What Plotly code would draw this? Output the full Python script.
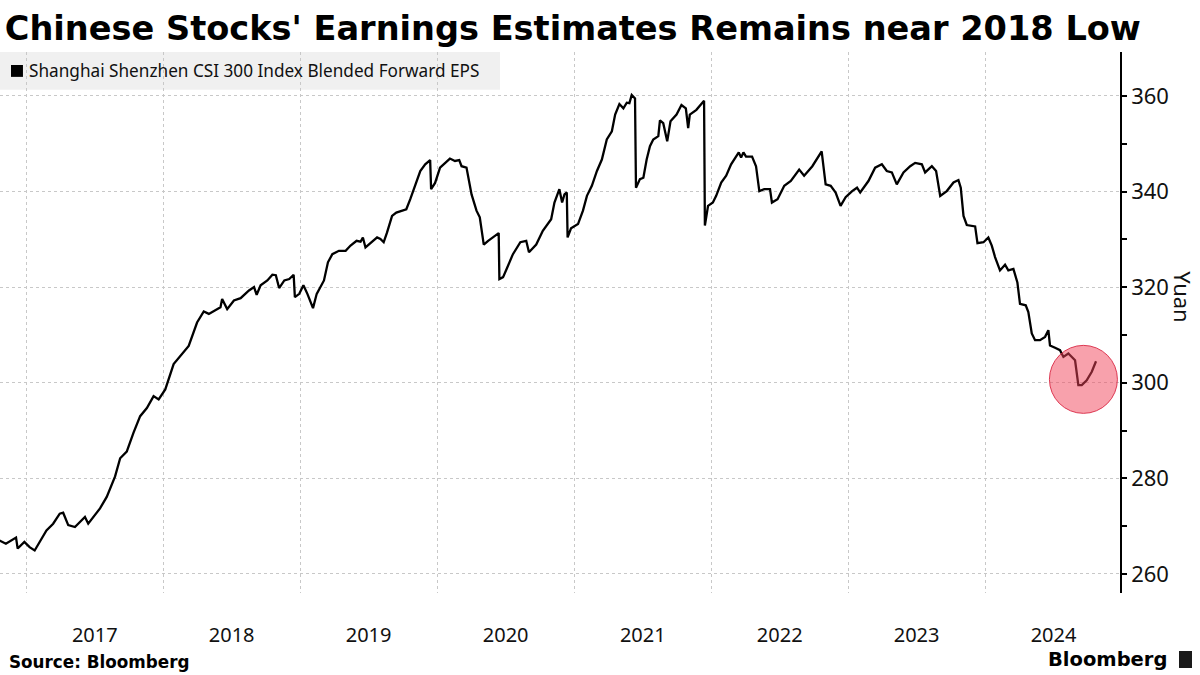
import plotly.graph_objects as go
import pandas as pd

# CSI 300 blended forward EPS (decimal year, yuan)
t_2017 = [2016.804, 2016.853, 2016.927, 2016.939, 2016.988, 2017.024, 2017.061, 2017.147, 2017.196, 2017.244,
          2017.269, 2017.306, 2017.355, 2017.428, 2017.452, 2017.538, 2017.587, 2017.648, 2017.685, 2017.733,
          2017.782, 2017.831, 2017.880, 2017.929, 2017.966, 2018.015, 2018.076, 2018.125, 2018.186, 2018.247,
          2018.296, 2018.333, 2018.418, 2018.430, 2018.467, 2018.516, 2018.565, 2018.626, 2018.663, 2018.682,
          2018.711, 2018.760, 2018.797, 2018.822, 2018.846]
eps_2017 = [267.0, 266.3, 267.6, 265.3, 266.7, 265.6, 264.9, 269.1, 270.5, 272.6,
            272.8, 270.2, 269.8, 271.9, 270.5, 273.7, 276.1, 280.4, 284.2, 285.6,
            289.5, 293.0, 294.7, 297.2, 296.5, 298.6, 303.9, 305.6, 307.7, 312.6,
            314.9, 314.4, 315.8, 317.5, 315.4, 317.2, 317.7, 319.3, 320.0, 318.4,
            320.4, 321.4, 322.6, 322.5, 319.8]

t_2019 = [2018.884, 2018.920, 2018.952, 2018.961, 2018.993, 2019.024, 2019.053, 2019.094, 2019.121, 2019.174,
          2019.203, 2019.235, 2019.283, 2019.332, 2019.368, 2019.412, 2019.441, 2019.458, 2019.477, 2019.525,
          2019.562, 2019.586, 2019.610, 2019.634, 2019.671, 2019.702, 2019.775, 2019.804, 2019.840, 2019.877,
          2019.913, 2019.944, 2019.949, 2019.956, 2019.985, 2020.022, 2020.058, 2020.094, 2020.131, 2020.162,
          2020.179, 2020.215, 2020.252, 2020.288, 2020.312, 2020.341, 2020.373, 2020.421, 2020.450, 2020.455,
          2020.482, 2020.511, 2020.554, 2020.608, 2020.651, 2020.671, 2020.724, 2020.772, 2020.809, 2020.833,
          2020.857, 2020.893, 2020.913, 2020.930, 2020.947, 2020.953, 2020.978, 2021.027, 2021.063]
eps_2019 = [321.4, 321.7, 322.6, 317.9, 318.6, 320.4, 318.6, 315.6, 318.6, 321.4,
            325.2, 326.9, 327.6, 327.6, 328.7, 329.7, 329.5, 330.4, 328.3, 329.4,
            330.4, 330.1, 329.4, 331.4, 334.9, 335.6, 336.3, 338.4, 341.2, 344.3,
            345.7, 346.5, 346.6, 340.5, 341.8, 345.0, 346.0, 346.9, 346.4, 346.6,
            345.3, 345.0, 339.4, 336.0, 334.6, 328.9, 329.7, 330.8, 331.3, 321.7,
            322.1, 324.0, 326.9, 329.4, 329.7, 327.3, 328.9, 331.8, 333.2, 334.2,
            337.7, 340.5, 337.7, 339.4, 339.8, 330.4, 332.3, 333.2, 336.0]

t_2021 = [2021.092, 2021.128, 2021.165, 2021.201, 2021.237, 2021.274, 2021.298, 2021.329, 2021.358, 2021.383,
          2021.402, 2021.419, 2021.443, 2021.450, 2021.479, 2021.504, 2021.528, 2021.552, 2021.576, 2021.613,
          2021.625, 2021.649, 2021.678, 2021.702, 2021.746, 2021.782, 2021.814, 2021.831, 2021.843, 2021.891,
          2021.920, 2021.947, 2021.953, 2021.976, 2022.012, 2022.036, 2022.073, 2022.109, 2022.145, 2022.182,
          2022.201, 2022.218, 2022.235, 2022.254, 2022.298, 2022.327, 2022.351, 2022.387, 2022.429, 2022.443,
          2022.484, 2022.533, 2022.581, 2022.642, 2022.678, 2022.738, 2022.806, 2022.835, 2022.872, 2022.908,
          2022.944, 2022.981, 2023.029, 2023.065]
eps_2021 = [339.1, 341.2, 344.3, 346.7, 350.9, 352.6, 356.1, 358.3, 357.4, 358.6,
            358.5, 360.2, 359.5, 340.8, 342.6, 342.9, 346.7, 349.5, 350.9, 351.6,
            354.9, 354.3, 350.5, 354.7, 356.1, 358.1, 357.4, 353.3, 356.1, 357.1,
            358.1, 359.0, 332.9, 337.0, 337.7, 339.1, 341.9, 343.3, 345.7, 347.4,
            348.2, 347.1, 348.2, 347.3, 347.3, 345.3, 340.1, 340.5, 340.5, 337.7,
            338.4, 341.2, 342.2, 344.6, 343.3, 345.3, 348.4, 341.5, 341.2, 339.8,
            337.0, 338.8, 340.1, 340.8]

t_2023 = [2023.088, 2023.148, 2023.197, 2023.246, 2023.282, 2023.319, 2023.355, 2023.404, 2023.453, 2023.489,
          2023.538, 2023.562, 2023.611, 2023.642, 2023.672, 2023.720, 2023.769, 2023.805, 2023.822, 2023.842,
          2023.866, 2023.927, 2023.944, 2023.988, 2024.024, 2024.049, 2024.073, 2024.109, 2024.146, 2024.170,
          2024.207, 2024.236, 2024.255, 2024.297, 2024.316, 2024.341, 2024.365, 2024.401, 2024.438, 2024.462,
          2024.474, 2024.511, 2024.547, 2024.572, 2024.608, 2024.657, 2024.681, 2024.706, 2024.742, 2024.779,
          2024.810]
eps_2023 = [339.8, 342.2, 345.0, 345.7, 344.3, 344.0, 341.5, 344.0, 345.3, 346.0,
            345.7, 344.0, 345.3, 344.3, 339.1, 340.1, 341.9, 342.4, 340.8, 334.9,
            333.0, 332.7, 329.2, 329.4, 330.4, 328.7, 326.3, 323.5, 324.7, 323.5,
            323.8, 321.0, 316.5, 316.2, 314.8, 310.3, 308.9, 308.9, 309.6, 311.0,
            307.8, 307.3, 306.8, 305.4, 306.1, 304.7, 299.5, 299.5, 300.5, 302.3,
            304.5]

# highlighted low
low_t = 2024.718
low_eps = 300.7


def to_date(t):
    y = int(t)
    return pd.Timestamp(year=y, month=1, day=1) + pd.Timedelta(days=(t - y) * 365.25)


years = t_2017 + t_2019 + t_2021 + t_2023
eps = eps_2017 + eps_2019 + eps_2021 + eps_2023
dates = [to_date(t) for t in years]

FONT = "Noto Sans"

fig = go.Figure()
fig.add_trace(go.Scatter(
    x=dates, y=eps,
    mode='lines',
    line=dict(color='#000000', width=2.3),
    name='Shanghai Shenzhen CSI 300 Index Blended Forward EPS',
    showlegend=False,
    hoverinfo='x+y'
))

shapes = [
    # legend box
    dict(type='rect', xref='paper', yref='paper', x0=0, x1=0.4464, y0=0.930, y1=1.0,
         fillcolor='#f0f0f0', line=dict(width=0), layer='below'),
    dict(type='rect', xref='paper', yref='paper', x0=0.0098, x1=0.0205, y0=0.954, y1=0.976,
         fillcolor='#000000', line=dict(width=0)),
    # red circle around the low
    dict(type='circle', xref='x', yref='y', xsizemode='pixel', ysizemode='pixel',
         xanchor=to_date(low_t), yanchor=low_eps, x0=-34, x1=34, y0=-34, y1=34,
         fillcolor='rgba(242, 68, 90, 0.5)', line=dict(color='rgba(215, 30, 60, 0.85)', width=1),
         layer='above'),
    # bloomberg icon
    dict(type='rect', xref='paper', yref='paper', x0=1.0527, x1=1.0643, y0=-0.1386, y1=-0.1072,
         fillcolor='#1a1a1a', line=dict(width=0)),
]

annotations = [
    dict(text='Shanghai Shenzhen CSI 300 Index Blended Forward EPS', xref='paper', yref='paper',
         x=0.024, y=0.965, xanchor='left', yanchor='middle', showarrow=False,
         font=dict(family=FONT, size=17.2, color='#111111')),
    dict(text='Yuan', xref='paper', yref='paper', x=1.056, y=0.547, textangle=90,
         xanchor='center', yanchor='middle', showarrow=False,
         font=dict(family=FONT, size=22, color='#111111')),
    dict(text='<b>Source: Bloomberg</b>', xref='paper', yref='paper', x=0.006, y=-0.1275,
         xanchor='left', yanchor='middle', showarrow=False,
         font=dict(family='DejaVu Sans', size=16.8, color='#000000')),
    dict(text='<b>Bloomberg</b>', xref='paper', yref='paper', x=1.044, y=-0.1233,
         xanchor='right', yanchor='middle', showarrow=False,
         font=dict(family='DejaVu Sans', size=19.5, color='#000000')),
]

fig.update_layout(
    width=1200, height=675,
    title=dict(text="<b>Chinese Stocks' Earnings Estimates Remains near 2018 Low</b>",
               x=0.004, xanchor='left', y=0.958, yanchor='middle',
               font=dict(family='DejaVu Sans', size=33.6, color='#000000')),
    margin=dict(l=0, r=80, t=52, b=82),
    plot_bgcolor='#ffffff',
    paper_bgcolor='#ffffff',
    font=dict(family=FONT, color='#111111'),
    showlegend=False,
    shapes=shapes,
    annotations=annotations,
    xaxis=dict(
        range=[to_date(2016.810), to_date(2024.985)],
        dtick='M12', tick0='2017-01-01',
        ticklabelmode='period', tickformat='%Y',
        ticks='', showline=False, zeroline=False,
        showgrid=True, gridcolor='#c8c8c8', griddash='dot', gridwidth=1,
        ticklabelstandoff=28,
        tickfont=dict(family=FONT, size=20, color='#111111'),
    ),
    yaxis=dict(
        side='right',
        range=[256.0, 369.2],
        tick0=260, dtick=20,
        ticks='outside', ticklen=5, tickcolor='#000000', tickwidth=1.5,
        minor=dict(dtick=10, tick0=250, ticks='outside', ticklen=5, tickcolor='#000000',
                   tickwidth=1.5, showgrid=False),
        showline=True, linecolor='#000000', linewidth=1.5,
        zeroline=False,
        showgrid=True, gridcolor='#c8c8c8', griddash='dot', gridwidth=1,
        tickfont=dict(family=FONT, size=22, color='#111111'),
    ),
)

# drop the browser's default page margin so the figure sits at the window origin
fig.write_html("out.html", config={'displayModeBar': False},
               post_script=["document.body.style.margin='0';"])
